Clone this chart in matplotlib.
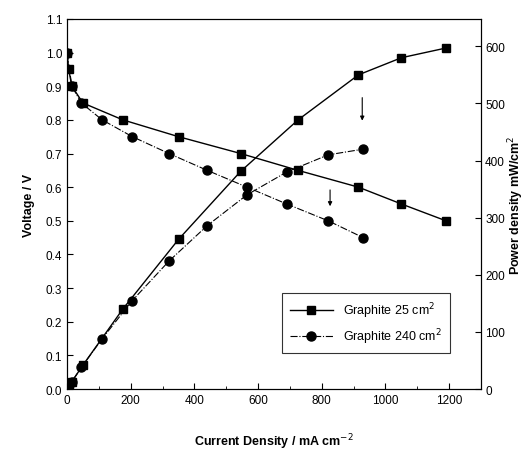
import matplotlib
matplotlib.use("Agg")
import matplotlib.pyplot as plt
from matplotlib.ticker import MultipleLocator

plt.rcParams['font.family'] = ['Liberation Sans', 'DejaVu Sans']

# Graphite 25 cm2 (squares)
i_25 = [0, 5, 15, 50, 175, 350, 545, 725, 915, 1050, 1190]
v_25 = [1.0, 0.95, 0.9, 0.85, 0.8, 0.75, 0.7, 0.65, 0.6, 0.55, 0.5]
p_25 = [0, 5, 13, 42, 140, 262, 381, 471, 550, 580, 597]

# Graphite 240 cm2 (circles)
i_240 = [0, 15, 45, 110, 205, 320, 440, 565, 690, 820, 930]
v_240 = [1.0, 0.9, 0.85, 0.8, 0.75, 0.7, 0.65, 0.6, 0.55, 0.5, 0.45]
p_240 = [0, 13, 38, 88, 155, 224, 286, 340, 380, 410, 420]

fig = plt.figure(figsize=(5.28, 4.52), dpi=100)
ax = fig.add_axes([0.127, 0.137, 0.784, 0.819])
ax2 = ax.twinx()

kw_sq = dict(color='black', marker='s', markersize=6, linewidth=1.0, linestyle='-')
kw_ci = dict(color='black', marker='o', markersize=6.5, linewidth=0.8, linestyle='-.')

l1, = ax.plot(i_25, v_25, **kw_sq)
l2, = ax.plot(i_240, v_240, **kw_ci)
ax2.plot(i_25, p_25, **kw_sq)
ax2.plot(i_240, p_240, **kw_ci)

ax.set_xlim(0, 1300)
ax.set_ylim(0, 1.1)
ax2.set_ylim(0, 648)

ax.xaxis.set_major_locator(MultipleLocator(200))
ax.xaxis.set_minor_locator(MultipleLocator(100))
ax.yaxis.set_major_locator(MultipleLocator(0.1))
ax2.yaxis.set_major_locator(MultipleLocator(100))
ax.yaxis.set_major_formatter(matplotlib.ticker.FormatStrFormatter('%.1f'))

ax.tick_params(axis='both', which='both', direction='in', labelsize=8.5, top=False)
ax.tick_params(which='major', length=4)
ax.tick_params(which='minor', length=2.5)
ax2.tick_params(direction='in', labelsize=8.5, length=4, pad=3)

ax.set_xlabel('Current Density / mA cm$^{-2}$', fontsize=9, fontweight='bold', labelpad=18)
ax.set_ylabel('Voltage / V', fontsize=9, fontweight='bold', labelpad=8)
ax2.set_ylabel('Power density mW/cm$^2$', fontsize=9, fontweight='bold', labelpad=1)

# arrows pointing from 25 cm2 to 240 cm2 curves
ax2.annotate('', xy=(927, 465), xytext=(927, 515),
             arrowprops=dict(arrowstyle='-|>', color='black', lw=0.8, mutation_scale=6))
ax.annotate('', xy=(826, 0.535), xytext=(826, 0.6),
            arrowprops=dict(arrowstyle='-|>', color='black', lw=0.8, mutation_scale=6))

leg = ax.legend([l1, l2], ['Graphite 25 cm$^2$', 'Graphite 240 cm$^2$'],
                loc='lower right', bbox_to_anchor=(0.94, 0.08), fontsize=9,
                frameon=True, fancybox=False, edgecolor='black', handlelength=3.5,
                borderpad=0.6)
leg.get_frame().set_linewidth(0.8)

fig.savefig('out.png', dpi=100)
